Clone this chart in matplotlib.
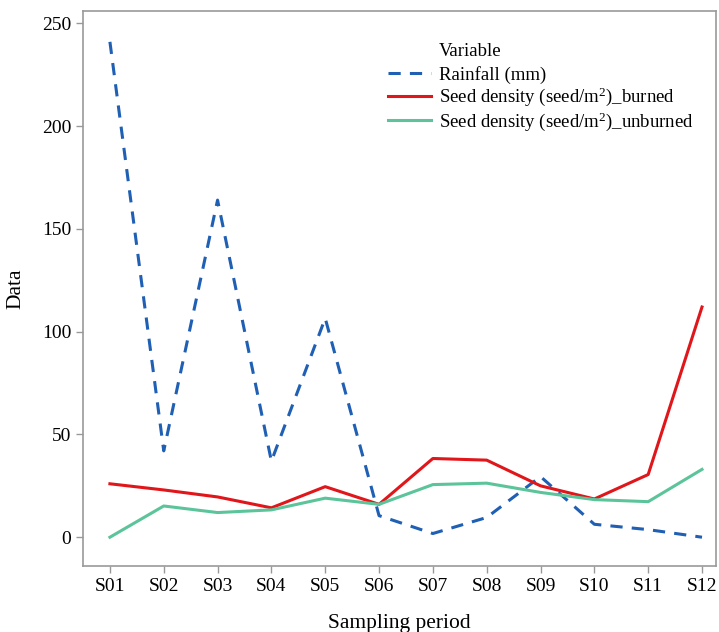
import matplotlib.pyplot as plt

plt.rcParams["font.family"] = ["Liberation Serif", "DejaVu Serif"]
plt.rcParams["mathtext.fontset"] = "custom"
plt.rcParams["mathtext.rm"] = "Liberation Serif"
plt.rcParams["mathtext.it"] = "Liberation Serif:italic"

periods = ["S01", "S02", "S03", "S04", "S05", "S06",
           "S07", "S08", "S09", "S10", "S11", "S12"]
rainfall = [241, 42, 164, 37, 106.5, 10.5, 1.8, 9.6, 29.5, 6.3, 3.7, 0]
seed_burned = [26, 23, 19.6, 14.3, 24.6, 16, 38.3, 37.5, 25, 18.6, 30.5, 112]
seed_unburned = [0, 15.2, 12, 13.3, 19, 16, 25.6, 26.3, 21.8, 18.3, 17.3, 33]

fig = plt.figure(figsize=(7.19, 6.32), dpi=100)
ax = fig.add_axes([83 / 719, 66 / 632, 633 / 719, 555 / 632])

x = range(len(periods))
ax.plot(x, rainfall, color="#1f5fb4", lw=2.2, ls=(0, (4, 3)), label="Rainfall (mm)")
ax.plot(x, seed_burned, color="#e0161b", lw=2.2,
        label="Seed density (seed/m$^\\mathrm{2}$)_burned")
ax.plot(x, seed_unburned, color="#5cc49a", lw=2.2,
        label="Seed density (seed/m$^\\mathrm{2}$)_unburned")

ax.set_xlim(-0.5, 11.26)
ax.set_ylim(-14, 256)
ax.set_xticks(list(x))
ax.set_xticklabels(periods)
ax.set_yticks([0, 50, 100, 150, 200, 250])
ax.tick_params(labelsize=14, color="#999999", length=5, width=1)

for sp in ax.spines.values():
    sp.set_color("#999999")
    sp.set_linewidth(1.2)

ax.set_xlabel("Sampling period", fontsize=15.5, labelpad=14)
ax.set_ylabel("Data", fontsize=15.5, labelpad=12)

leg = ax.legend(title="Variable", loc="upper left", bbox_to_anchor=(0.47, 0.955),
                frameon=False, fontsize=13.5, title_fontsize=13.5,
                handlelength=2.3, handletextpad=0.4, labelspacing=0.1,
                borderaxespad=0)
leg._legend_box.align = "left"
leg._legend_box.sep = 4
leg.get_title().set_position((51, 0))

fig.savefig("out.png", dpi=100, facecolor="white")
